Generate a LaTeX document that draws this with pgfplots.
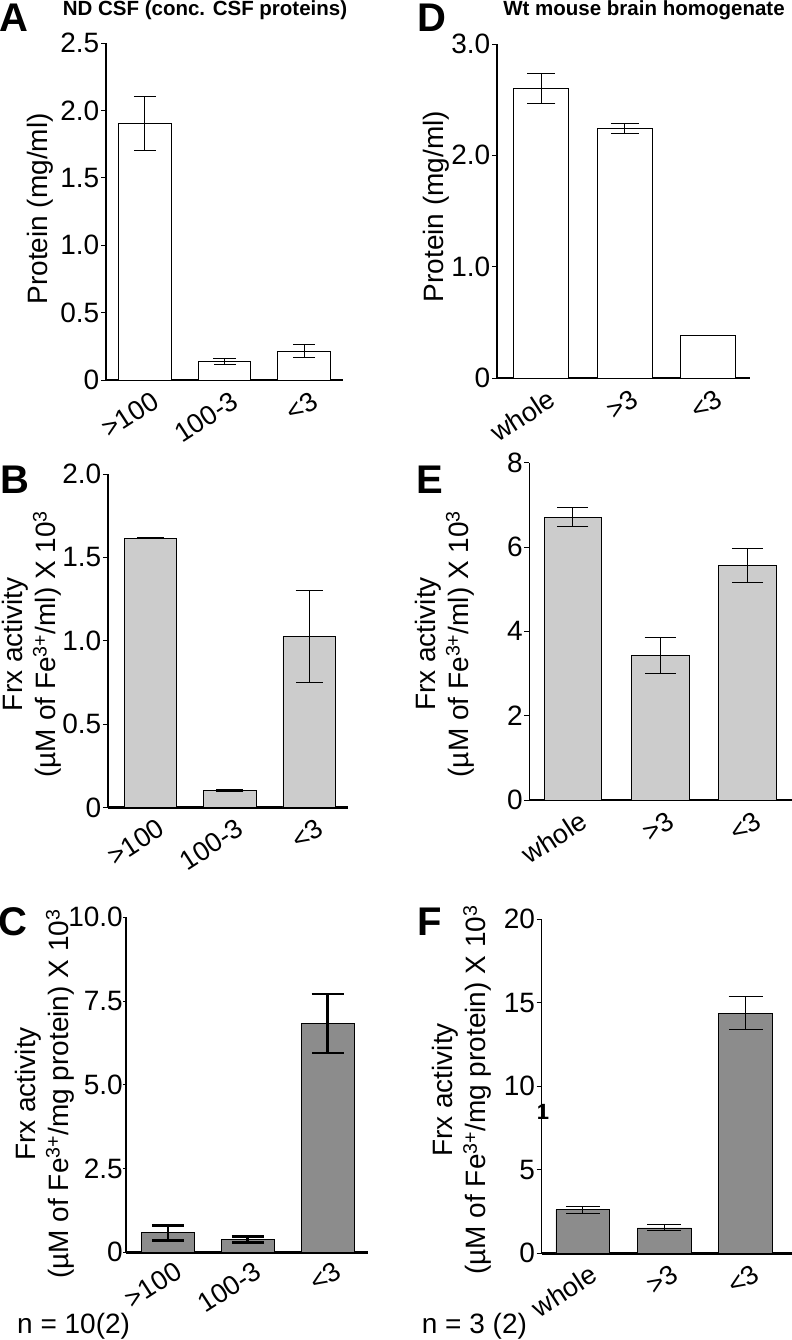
\documentclass[border=0pt]{standalone}
\usepackage{pgfplots}
\pgfplotsset{compat=1.18}
\usepackage{fontspec}
\setmainfont{Liberation Sans}
\definecolor{lightbar}{HTML}{CCCCCC}
\definecolor{darkbar}{HTML}{8C8C8C}
\newcommand{\tickfont}{\fontsize{28bp}{32bp}\selectfont}
\newcommand{\xtickfont}{\fontsize{27bp}{31bp}\selectfont}
\newcommand{\labfont}{\fontsize{28bp}{33bp}\selectfont}
\newcommand{\letfont}{\fontsize{40bp}{44bp}\selectfont\bfseries}
\pgfplotsset{
  panel/.style={
    scale only axis,
    anchor=south west,
    axis x line=bottom, axis y line=left,
    axis line style={-},
    x axis line style={line width=2.8bp},
    y axis line style={line width=1.2bp},
    xtick={0,1,2}, xtick style={draw=none},
    ytick style={line width=1bp, black},
    major tick length=5bp, tick align=outside,
    ymin=0, clip=false,
    yticklabel style={font=\tickfont, inner sep=1.5bp},
    xticklabel style={font=\xtickfont, rotate=33, anchor=north east, inner sep=0bp, xshift=2bp, yshift=-7bp},
    /pgf/number format/assume math mode=true,
    ylabel style={font=\labfont, align=center, anchor=center},
    ybar, bar width=0.66,
  },
  eb/.style 2 args={error bars/.cd, y dir=both, y explicit,
    error bar style={line width=#1, black},
    error mark options={rotate=90, line width=#1, mark size=#2, black}},
}
\begin{document}
\begin{tikzpicture}
% ---------- A ----------
\begin{axis}[panel, at={(106bp,-380bp)}, width=237bp, height=337bp,
  xmin=-0.49, xmax=2.49, ymax=2.5,
  ytick={0,0.5,1,1.5,2,2.5}, yticklabels={0,0.5,1.0,1.5,2.0,2.5},
  xticklabels={>100,100-3,<3},
  ylabel={Protein (mg/ml)},
  ylabel style={at={(axis description cs:-0.278,0.508)}}]
\addplot[fill=white, draw=black, line width=0.8bp, eb={1bp}{11bp}]
  coordinates {(0,1.90) +- (0,0.20) (1,0.14) +- (0,0.022) (2,0.215) +- (0,0.045)};
\end{axis}
% ---------- D ----------
\begin{axis}[panel, at={(497bp,-378bp)}, width=253bp, height=334bp,
  xmin=-0.53, xmax=2.5, ymax=3,
  ytick={0,1,2,3}, yticklabels={0,1.0,2.0,3.0},
  xticklabels={whole,>3,<3},
  ylabel={Protein (mg/ml)},
  ylabel style={at={(axis description cs:-0.241,0.513)}}]
\addplot[fill=white, draw=black, line width=0.8bp, eb={1bp}{14bp}]
  coordinates {(0,2.60) +- (0,0.135) (1,2.24) +- (0,0.045) (2,0.386) +- (0,0)};
\end{axis}
% ---------- B ----------
\begin{axis}[panel, at={(108bp,-807.7bp)}, width=240bp, height=333.7bp,
  xmin=-0.536, xmax=2.49, ymax=2,
  ytick={0,0.5,1,1.5,2}, yticklabels={0,0.5,1.0,1.5,2.0},
  xticklabels={>100,100-3,<3},
  ylabel={Frx activity\\(µM of Fe\textsuperscript{3+}/ml) X 10\textsuperscript{3}},
  ylabel style={at={(axis description cs:-0.317,0.49)}}]
\addplot[fill=lightbar, draw=black, line width=0.8bp, eb={1bp}{13.5bp}]
  coordinates {(0,1.616) +- (0,0.003) (1,0.102) +- (0,0.005) (2,1.025) +- (0,0.275)};
\end{axis}
% ---------- E ----------
\begin{axis}[panel, at={(529.3bp,-800bp)}, width=262.7bp, height=337.3bp,
  xmin=-0.5, xmax=2.51, ymax=8,
  ytick={0,2,4,6,8}, yticklabels={0,2,4,6,8},
  xticklabels={whole,>3,<3},
  ylabel={Frx activity\\(µM of Fe\textsuperscript{3+}/ml) X 10\textsuperscript{3}},
  ylabel style={at={(axis description cs:-0.321,0.4625)}}]
\addplot[fill=lightbar, draw=black, line width=0.8bp, eb={1bp}{15.5bp}]
  coordinates {(0,6.71) +- (0,0.225) (1,3.42) +- (0,0.425) (2,5.56) +- (0,0.405)};
\end{axis}
% ---------- C ----------
\begin{axis}[panel, at={(126bp,-1252.3bp)}, width=242bp, height=335bp,
  xmin=-0.526, xmax=2.505, ymax=10,
  ytick={0,2.5,5,7.5,10}, yticklabels={0,2.5,5.0,7.5,10.0},
  yticklabel style={inner sep=0bp}, major tick length=3bp,
  xticklabels={>100,100-3,<3},
  ylabel={Frx activity\\(µM of Fe\textsuperscript{3+}/mg protein) X 10\textsuperscript{3}},
  ylabel style={at={(axis description cs:-0.335,0.4725)}}]
\addplot[fill=darkbar, draw=black, line width=1bp, eb={2.8bp}{16bp}]
  coordinates {(0,0.577) +- (0,0.22) (1,0.385) +- (0,0.08) (2,6.83) +- (0,0.88)};
\end{axis}
% ---------- F ----------
\begin{axis}[panel, at={(541.7bp,-1253.3bp)}, width=250.3bp, height=334bp,
  xmin=-0.505, xmax=2.57, ymax=20,
  ytick={0,5,10,15,20}, yticklabels={0,5,10,15,20},
  xticklabels={whole,>3,<3},
  ylabel={Frx activity\\(µM of Fe\textsuperscript{3+}/mg protein) X 10\textsuperscript{3}},
  ylabel style={at={(axis description cs:-0.318,0.489)}}]
\addplot[fill=darkbar, draw=black, line width=0.8bp, eb={1bp}{17bp}]
  coordinates {(0,2.61) +- (0,0.205) (1,1.52) +- (0,0.18) (2,14.39) +- (0,1.01)};
\end{axis}
% ---------- letters, titles, notes ----------
\begin{scope}[every node/.style={inner sep=0pt}]
\node[font=\letfont] at (14bp,-18bp) {A};
\node[font=\letfont] at (432bp,-18bp) {D};
\node[font=\letfont] at (15bp,-480bp) {B};
\node[font=\letfont] at (430bp,-480bp) {E};
\node[font=\letfont] at (13bp,-922bp) {C};
\node[font=\letfont] at (430bp,-922bp) {F};
\node[font=\fontsize{20.5bp}{24bp}\selectfont\bfseries] at (205bp,-10bp) {ND CSF (conc. CSF proteins)};
\node[font=\fontsize{20.5bp}{24bp}\selectfont\bfseries] at (644bp,-10bp) {Wt mouse brain homogenate};
\node[font=\labfont, anchor=base west] at (17bp,-1333bp) {n = 10(2)};
\node[font=\labfont, anchor=base west] at (421.7bp,-1333bp) {n = 3 (2)};
\node[font=\fontsize{22bp}{24bp}\selectfont\bfseries] at (543bp,-1112bp) {1};
\end{scope}
\pgfresetboundingbox
\useasboundingbox (0,0) rectangle (792bp,-1340bp);
\end{tikzpicture}
\end{document}
